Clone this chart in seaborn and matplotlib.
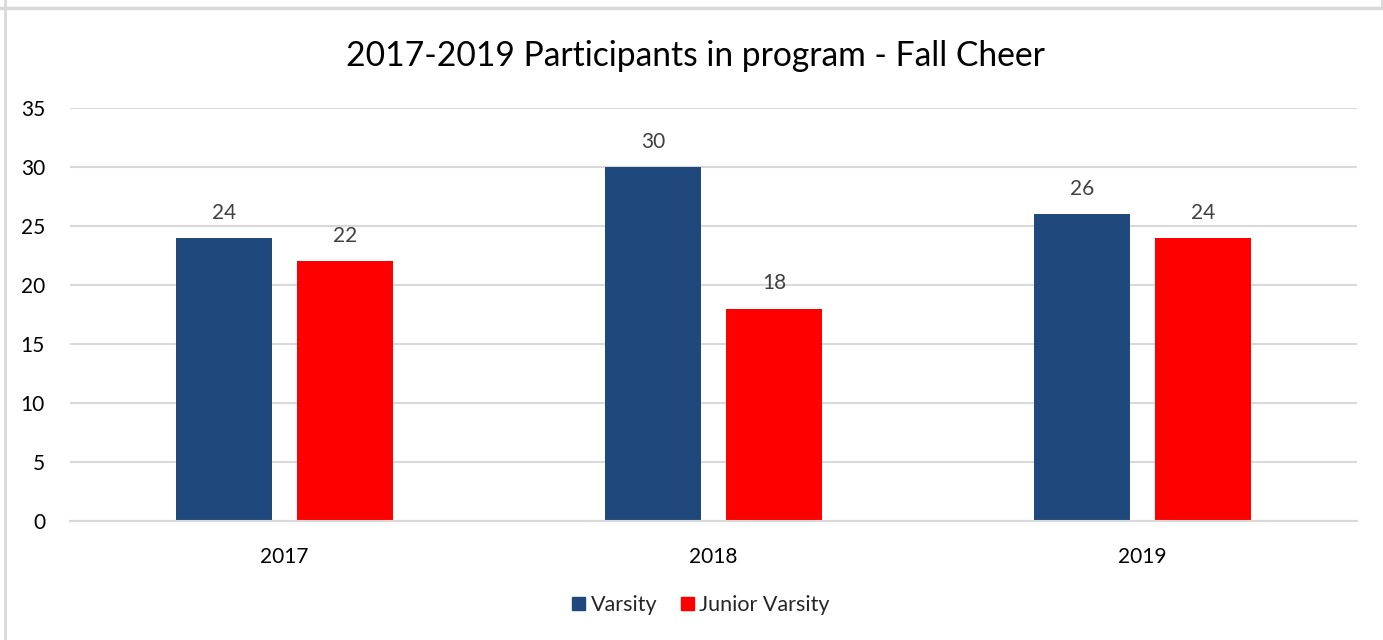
import pandas as pd
import seaborn as sns
import matplotlib
matplotlib.use("Agg")
from matplotlib import pyplot as plt
from matplotlib.lines import Line2D

years = ["2017", "2018", "2019"]
varsity = [24, 30, 26]
junior_varsity = [22, 18, 24]
series_names = ["Varsity", "Junior Varsity"]
colors = ["#1F497D", "#FF0000"]

df = pd.DataFrame({
    "year": years * 2,
    "team": [series_names[0]] * 3 + [series_names[1]] * 3,
    "count": varsity + junior_varsity,
})

sns.set_style("white")
plt.rcParams["font.family"] = ["Lato", "DejaVu Sans"]

fig = plt.figure(figsize=(13.83, 6.4), dpi=100)
ax = fig.add_axes([70 / 1383, 1 - 521 / 640, (1357 - 70) / 1383, (521 - 108) / 640])

sns.barplot(data=df, x="year", y="count", hue="team", palette=colors,
            width=0.565, gap=0.21, ax=ax, saturation=1, linewidth=0)

for c in ax.containers:
    ax.bar_label(c, padding=11, fontsize=15, color="#404040")

ax.set_ylim(0, 35)
ax.set_xlim(-0.5, 2.5)
ax.set_yticks(range(0, 36, 5))
ax.yaxis.grid(True, color="#D9D9D9", linewidth=1.5)
ax.set_axisbelow(True)
for s in ["top", "right", "left"]:
    ax.spines[s].set_visible(False)
ax.spines["bottom"].set_color("#D9D9D9")
ax.spines["bottom"].set_linewidth(1.5)
ax.tick_params(axis="both", length=0, labelsize=15, colors="black")
ax.tick_params(axis="y", pad=18)
ax.tick_params(axis="x", pad=19)
ax.set_xlabel("")
ax.set_ylabel("")

ax.legend_.remove()
handles = [plt.Rectangle((0, 0), 1, 1, color=c) for c in colors]
fig.legend(handles, series_names, loc="center", bbox_to_anchor=(0.507, 1 - 605 / 640),
           ncol=2, frameon=False, fontsize=15.5, handlelength=0.6, handleheight=0.6,
           handletextpad=0.25, columnspacing=1.1)

fig.text(0.503, 1 - 56 / 640, "2017-2019 Participants in program - Fall Cheer",
         ha="center", va="center", fontsize=24.2, color="black")

# outer frame lines like the spreadsheet screenshot
fig.add_artist(Line2D([0, 1], [1 - 8 / 640] * 2, color="#D9D9D9", linewidth=2.5))
fig.add_artist(Line2D([4.5 / 1383] * 2, [0, 1], color="#D9D9D9", linewidth=2))
fig.add_artist(Line2D([1381.5 / 1383] * 2, [1, 1 - 8 / 640], color="#D9D9D9", linewidth=2))

fig.savefig("out.png", dpi=100)
